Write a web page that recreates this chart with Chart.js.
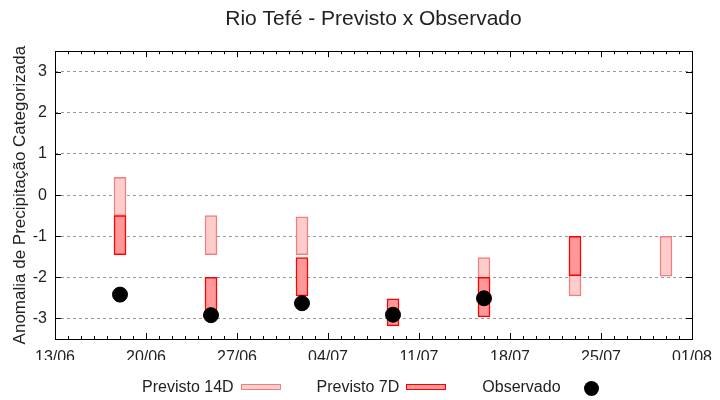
<!DOCTYPE html>
<html>
<head>
  <meta charset="utf-8" />
  <title>Rio Tefé - Previsto x Observado</title>
  <script src="https://cdn.jsdelivr.net/npm/chart.js@4.4.1/dist/chart.umd.min.js"></script>
  <style>
    body { margin: 0; background: #fff; font-family: "Liberation Sans", Arial, sans-serif; }
    #wrap { position: relative; width: 720px; height: 400px; }
    #legend { position: absolute; left: 142px; top: 378px; display: flex; align-items: center; font-size: 16px; line-height: 18px; color: #222; }
    #legend .sw { display: inline-block; width: 40px; height: 6px; box-sizing: border-box; margin-left: 7px; }
    #legend .dot { display: inline-block; width: 15px; height: 15px; border-radius: 50%; background: #000; margin-left: 23px; margin-top: 3px; }
    #legend .item + .item { margin-left: 36px; }
    .item { display: flex; align-items: center; }
  </style>
</head>
<body>
<div id="wrap">
  <canvas id="chart" width="720" height="400"></canvas>
  <div id="legend"></div>
</div>
<script>
  // dates of each forecast (dd/mm), axis starts at 13/06
  var startDate = '13/06';
  var dates = ['18/06', '25/06', '02/07', '09/07', '16/07', '23/07', '30/07'];
  var tickLabels = ['13/06', '20/06', '27/06', '04/07', '11/07', '18/07', '25/07', '01/08'];
  var yTicks = [-3, -2, -1, 0, 1, 2, 3];

  var prev14Low  = [-0.50, -1.45, -1.45, null, -2.45, -2.45, -1.97];
  var prev14High = [ 0.43, -0.50, -0.53, null, -1.52, -1.50, -1.00];
  var prev7Low   = [-1.45, -2.92, -2.45, -3.18, -2.96, -1.96, null];
  var prev7High  = [-0.50, -2.00, -1.52, -2.52, -2.00, -1.00, null];
  var observado  = [-2.42, -2.92, -2.63, -2.91, -2.51, null, null];

  var font = '"Liberation Sans", Arial, sans-serif';
  var textColor = '#222';

  function dayOffset(s) {
    var a = s.split('/'), b = startDate.split('/');
    var d1 = new Date(2000, +a[1] - 1, +a[0]);
    var d0 = new Date(2000, +b[1] - 1, +b[0]);
    return Math.round((d1 - d0) / 86400000);
  }
  var xs = dates.map(dayOffset);
  var xMax = (tickLabels.length - 1) * 7;

  function ranges(lo, hi) {
    var out = [];
    for (var i = 0; i < xs.length; i++) {
      if (lo[i] !== null && hi[i] !== null) out.push({ x: xs[i], y: [lo[i], hi[i]] });
    }
    return out;
  }
  function points(v) {
    var out = [];
    for (var i = 0; i < xs.length; i++) if (v[i] !== null) out.push({ x: xs[i], y: v[i] });
    return out;
  }

  // frame with inward ticks (major weekly / minor daily on x, integers on y)
  var framePlugin = {
    id: 'frame',
    beforeDatasetsDraw: function(chart) {
      var ctx = chart.ctx, a = chart.chartArea;
      var xs_ = chart.scales.x, ys_ = chart.scales.y;
      ctx.save();
      ctx.strokeStyle = '#000';
      ctx.lineWidth = 1;
      ctx.beginPath();
      for (var d = 0; d <= xMax; d++) {
        var px = Math.round(xs_.getPixelForValue(d)) + 0.5;
        var len = (d % 7 === 0) ? 6 : 3;
        ctx.moveTo(px, a.bottom); ctx.lineTo(px, a.bottom - len);
        ctx.moveTo(px, a.top); ctx.lineTo(px, a.top + len);
      }
      yTicks.forEach(function(v) {
        var py = Math.round(ys_.getPixelForValue(v)) + 0.5;
        ctx.moveTo(a.left, py); ctx.lineTo(a.left + 6, py);
        ctx.moveTo(a.right, py); ctx.lineTo(a.right - 6, py);
      });
      ctx.stroke();
      ctx.strokeRect(Math.round(a.left) + 0.5, Math.round(a.top) + 0.5,
                     Math.round(a.right - a.left), Math.round(a.bottom - a.top));
      ctx.restore();
    }
  };

  var datasets = [
    {
      type: 'bar', label: 'Previsto 14D', data: ranges(prev14Low, prev14High),
      backgroundColor: '#ffcccc', borderColor: '#f08080', borderWidth: 1.5,
      borderSkipped: false, barThickness: 12, grouped: false, order: 3
    },
    {
      type: 'bar', label: 'Previsto 7D', data: ranges(prev7Low, prev7High),
      backgroundColor: '#ff9999', borderColor: '#ff0000', borderWidth: 1.5,
      borderSkipped: false, barThickness: 12, grouped: false, order: 2
    },
    {
      type: 'scatter', label: 'Observado', data: points(observado),
      backgroundColor: '#000', borderColor: '#000', pointRadius: 7.5,
      pointHoverRadius: 7.5, order: 1
    }
  ];

  new Chart(document.getElementById('chart'), {
    type: 'bar',
    data: { datasets: datasets },
    plugins: [framePlugin],
    options: {
      responsive: false,
      animation: false,
      layout: { padding: { left: 0, right: 28, top: 0, bottom: 40 } },
      plugins: {
        legend: { display: false },
        tooltip: { enabled: false },
        title: {
          display: true, fullSize: false, text: 'Rio Tefé - Previsto x Observado', color: textColor,
          font: { family: font, size: 21, weight: 'normal' },
          padding: { top: 7, bottom: 19 }
        }
      },
      scales: {
        x: {
          type: 'linear', min: 0, max: xMax, offset: false,
          grid: { display: false, offset: false },
          border: { display: false },
          ticks: {
            stepSize: 7, padding: 1, color: textColor, maxRotation: 0,
            font: { family: font, size: 16 },
            callback: function(v) { return tickLabels[v / 7]; }
          },
          afterFit: function(s) { s.height = 21; }
        },
        y: {
          min: -3.5, max: 3.5,
          grid: { color: '#999', drawTicks: false },
          border: { display: false, dash: [3, 3] },
          ticks: {
            padding: 8, color: textColor,
            font: { family: font, size: 16 }
          },
          afterBuildTicks: function(s) {
            s.ticks = yTicks.map(function(v) { return { value: v }; });
          },
          title: {
            display: true, text: 'Anomalia de Precipitação Categorizada', color: textColor,
            font: { family: font, size: 17 }, padding: { top: 10, bottom: 0 }
          },
          afterFit: function(s) { s.width = 55; }
        }
      }
    }
  });

  // legend built from the dataset list
  var leg = document.getElementById('legend');
  datasets.forEach(function(ds) {
    var it = document.createElement('span');
    it.className = 'item';
    var t = document.createElement('span');
    t.textContent = ds.label;
    it.appendChild(t);
    var sw = document.createElement('span');
    if (ds.type === 'bar') {
      sw.className = 'sw';
      sw.style.background = ds.backgroundColor;
      sw.style.border = '1px solid ' + ds.borderColor;
    } else {
      sw.className = 'dot';
    }
    it.appendChild(sw);
    leg.appendChild(it);
  });
</script>
</body>
</html>
